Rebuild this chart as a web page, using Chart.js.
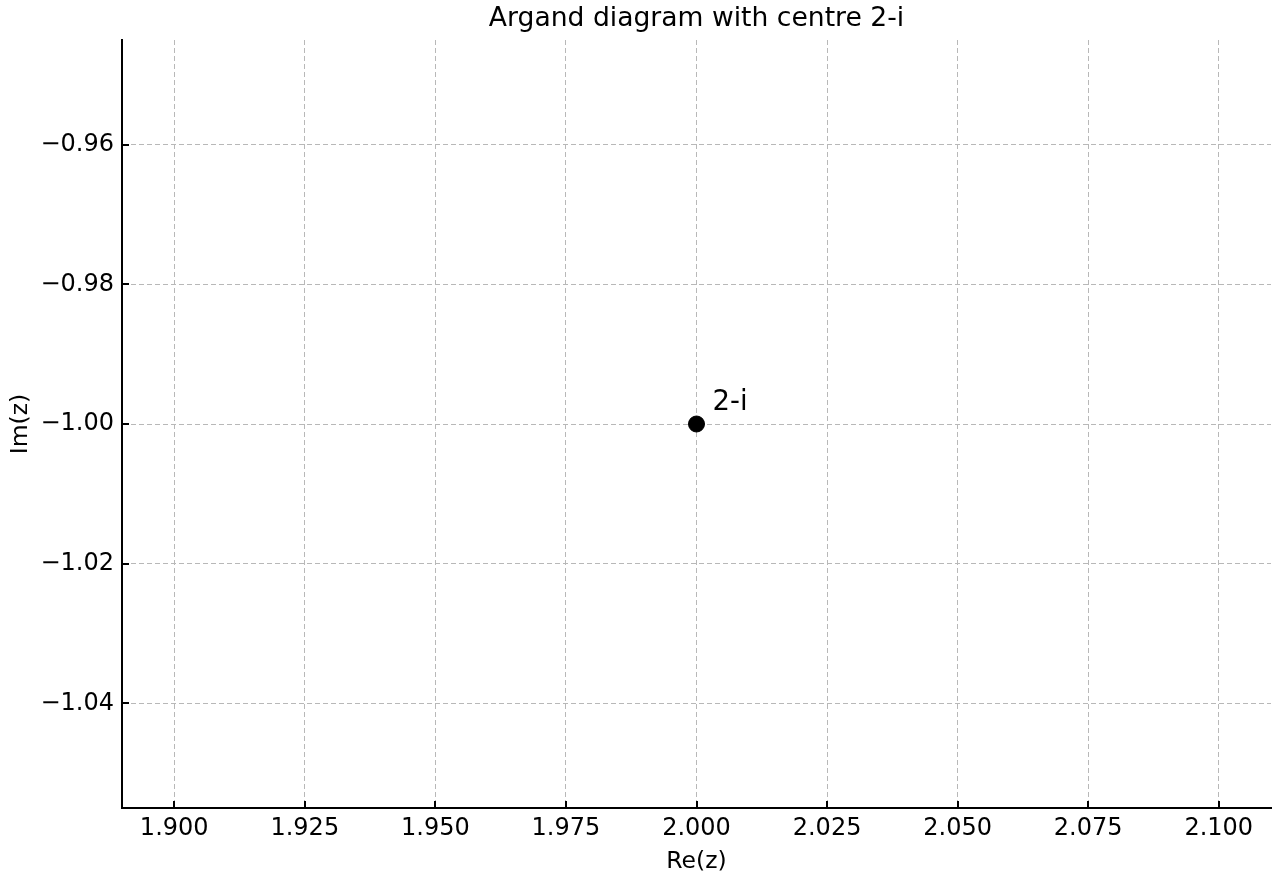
<!DOCTYPE html>
<html>
<head>
<meta charset="utf-8">
<script src="https://cdn.jsdelivr.net/npm/chart.js@4/dist/chart.umd.min.js"></script>
<style>
  html, body { margin: 0; padding: 0; background: #fff; }
  #wrap { width: 1280px; height: 880px; }
</style>
</head>
<body>
<div id="wrap"><canvas id="argand"></canvas></div>
<script>
// values
const pointRe = [2.0];
const pointIm = [-1.0];
const pointLabels = ["2-i"];
const xRange = [1.89, 2.11];
const yRange = [-1.055, -0.945];
const xTicks = [1.9, 1.925, 1.95, 1.975, 2.0, 2.025, 2.05, 2.075, 2.1];
const yTicks = [-1.04, -1.02, -1.0, -0.98, -0.96];
const titleText = "Argand diagram with centre 2-i";

const FONT = "'DejaVu Sans', sans-serif";

function fmtY(v) {
    const s = Math.abs(v).toFixed(2);
    return v < 0 ? "\u2212" + s : s;
}

// title centred over the plot area (not the whole canvas)
const areaTitle = {
    id: "areaTitle",
    afterDraw(chart) {
        const ctx = chart.ctx;
        const area = chart.chartArea;
        ctx.save();
        ctx.fillStyle = "#000";
        ctx.font = "26.6px " + FONT;
        ctx.textAlign = "center";
        ctx.textBaseline = "middle";
        ctx.fillText(titleText, (area.left + area.right) / 2, 19);
        ctx.restore();
    }
};

// inward tick marks, like the original
const innerTicks = {
    id: "innerTicks",
    afterDraw(chart) {
        const ctx = chart.ctx;
        const xs = chart.scales.x, ys = chart.scales.y;
        const area = chart.chartArea;
        ctx.save();
        ctx.strokeStyle = "#000";
        ctx.lineWidth = 2;
        ctx.beginPath();
        xTicks.forEach(v => {
            const px = Math.round(xs.getPixelForValue(v));
            ctx.moveTo(px, area.bottom);
            ctx.lineTo(px, area.bottom - 7);
        });
        yTicks.forEach(v => {
            const py = Math.round(ys.getPixelForValue(v));
            ctx.moveTo(area.left, py);
            ctx.lineTo(area.left + 7, py);
        });
        ctx.stroke();
        ctx.restore();
    }
};

// text next to each point
const pointText = {
    id: "pointText",
    afterDatasetsDraw(chart) {
        const ctx = chart.ctx;
        const xs = chart.scales.x, ys = chart.scales.y;
        ctx.save();
        ctx.fillStyle = "#000";
        ctx.font = "27.5px " + FONT;
        ctx.textAlign = "left";
        ctx.textBaseline = "alphabetic";
        pointRe.forEach((re, i) => {
            const px = xs.getPixelForValue(re);
            const py = ys.getPixelForValue(pointIm[i]);
            ctx.fillText(pointLabels[i], px + 16, py - 14);
        });
        ctx.restore();
    }
};

new Chart(document.getElementById("argand"), {
    type: "scatter",
    data: {
        datasets: [{
            data: pointRe.map((re, i) => ({ x: re, y: pointIm[i] })),
            backgroundColor: "#000",
            borderColor: "#000",
            pointRadius: 8,
            pointHoverRadius: 8
        }]
    },
    options: {
        responsive: true,
        maintainAspectRatio: false,
        animation: false,
        layout: { padding: { left: 0, right: 7, top: 40, bottom: 0 } },
        plugins: {
            legend: { display: false },
            tooltip: { enabled: false },
            title: { display: false }
        },
        scales: {
            x: {
                type: "linear",
                min: xRange[0],
                max: xRange[1],
                afterBuildTicks: s => { s.ticks = xTicks.map(v => ({ value: v })); },
                afterFit: s => { s.height = 72; s.paddingLeft = 0; s.paddingRight = 0; },
                ticks: {
                    color: "#000",
                    font: { family: FONT, size: 24 },
                    padding: 6,
                    maxRotation: 0,
                    autoSkip: false,
                    callback: v => Number(v).toFixed(3)
                },
                grid: { color: "#b8b8b8", lineWidth: 1, drawTicks: false, tickLength: 0 },
                border: { display: true, color: "#000", width: 2, dash: [5, 3] },
                title: {
                    display: true,
                    text: "Re(z)",
                    color: "#000",
                    font: { family: FONT, size: 23.5 },
                    padding: { top: 0, bottom: 4 }
                }
            },
            y: {
                type: "linear",
                min: yRange[0],
                max: yRange[1],
                afterBuildTicks: s => { s.ticks = yTicks.map(v => ({ value: v })); },
                afterFit: s => { s.width = 122; s.paddingTop = 0; s.paddingBottom = 0; },
                ticks: {
                    color: "#000",
                    font: { family: FONT, size: 24 },
                    padding: 8,
                    autoSkip: false,
                    callback: v => fmtY(Number(v))
                },
                grid: { color: "#b8b8b8", lineWidth: 1, drawTicks: false, tickLength: 0 },
                border: { display: true, color: "#000", width: 2, dash: [5, 3] },
                title: {
                    display: true,
                    text: "Im(z)",
                    color: "#000",
                    font: { family: FONT, size: 23.5 },
                    padding: { top: 7, bottom: 0 }
                }
            }
        }
    },
    plugins: [areaTitle, innerTicks, pointText]
});
</script>
</body>
</html>
